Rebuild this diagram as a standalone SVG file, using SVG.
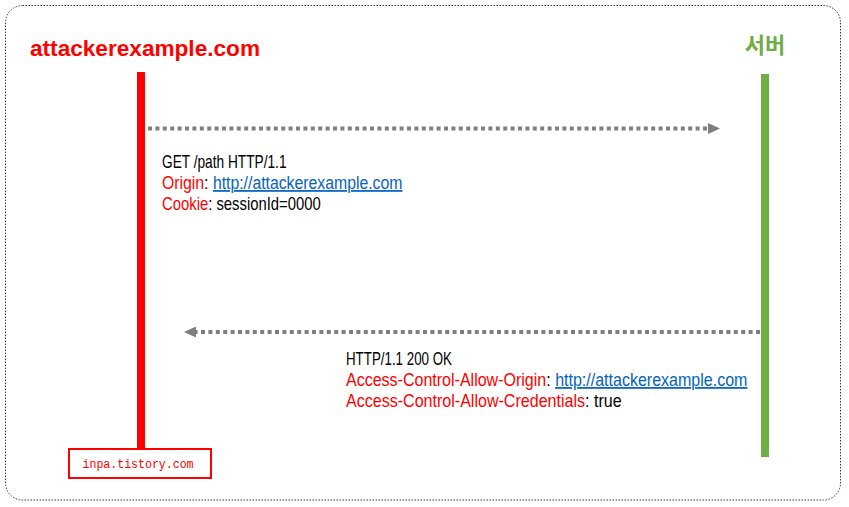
<svg xmlns="http://www.w3.org/2000/svg" width="849" height="507" viewBox="0 0 849 507">
<style>
.body{font-family:"Liberation Sans",Arial,sans-serif;font-size:17.5px;fill:#000}
.red{fill:#FF0000}
.link{fill:#0563C1;text-decoration:underline}
.msg{stroke:#7F7F7F;stroke-width:4;stroke-dasharray:4 3.4;fill:none}
</style>
<defs>
<marker id="ah" markerWidth="12" markerHeight="11" refX="0" refY="5.5" orient="auto" markerUnits="userSpaceOnUse">
<path d="M0,0 L12,5.5 L0,11 Z" fill="#7F7F7F"/>
</marker>
</defs>
<rect x="5.5" y="5.5" width="835" height="494.5" rx="17" fill="#fff" stroke="#333" stroke-width="1" stroke-dasharray="1.5 1.5"/>
<g id="attacker">
<text x="30" y="56" font-family="'Liberation Sans',Arial,sans-serif" font-weight="bold" font-size="22.5" fill="#FF0000" textLength="230" lengthAdjust="spacingAndGlyphs">attackerexample.com</text>
<rect x="137" y="72" width="8" height="376" fill="#FF0000"/>
</g>
<g id="server">
<text x="765" y="53" text-anchor="middle" font-family="'Noto Sans CJK KR',sans-serif" font-weight="bold" font-size="22" fill="#70AD47">서버</text>
<rect x="761" y="74" width="8" height="383" fill="#70AD47"/>
</g>
<g id="watermark">
<rect x="69" y="449" width="142" height="29" fill="#fff" stroke="#FF0000" stroke-width="2"/>
<text x="138" y="467.5" text-anchor="middle" font-family="'Liberation Mono','Courier New',monospace" font-size="12" fill="#FF0000" textLength="111" lengthAdjust="spacingAndGlyphs">inpa.tistory.com</text>
</g>
<g id="connectors">
<line class="msg" x1="148" y1="128.5" x2="708" y2="128.5" marker-end="url(#ah)"/>
<line class="msg" x1="760" y1="332" x2="196" y2="332" marker-end="url(#ah)"/>
</g>
<g id="request">
<text class="body" transform="translate(162 168) scale(0.783 1)">GET /path HTTP/1.1</text>
<text class="body" transform="translate(162 189) scale(0.903 1)"><tspan class="red">Origin</tspan>: <tspan class="link">http://attackerexample.com</tspan></text>
<text class="body" transform="translate(162 210) scale(0.848 1)"><tspan class="red">Cookie</tspan>: sessionId=0000</text>
</g>
<g id="response">
<text class="body" transform="translate(346 365) scale(0.762 1)">HTTP/1.1 200 OK</text>
<text class="body" transform="translate(346 386) scale(0.916 1)"><tspan class="red">Access-Control-Allow-Origin</tspan>: <tspan class="link">http://attackerexample.com</tspan></text>
<text class="body" transform="translate(346 407) scale(0.918 1)"><tspan class="red">Access-Control-Allow-Credentials</tspan>: true</text>
</g>
</svg>
